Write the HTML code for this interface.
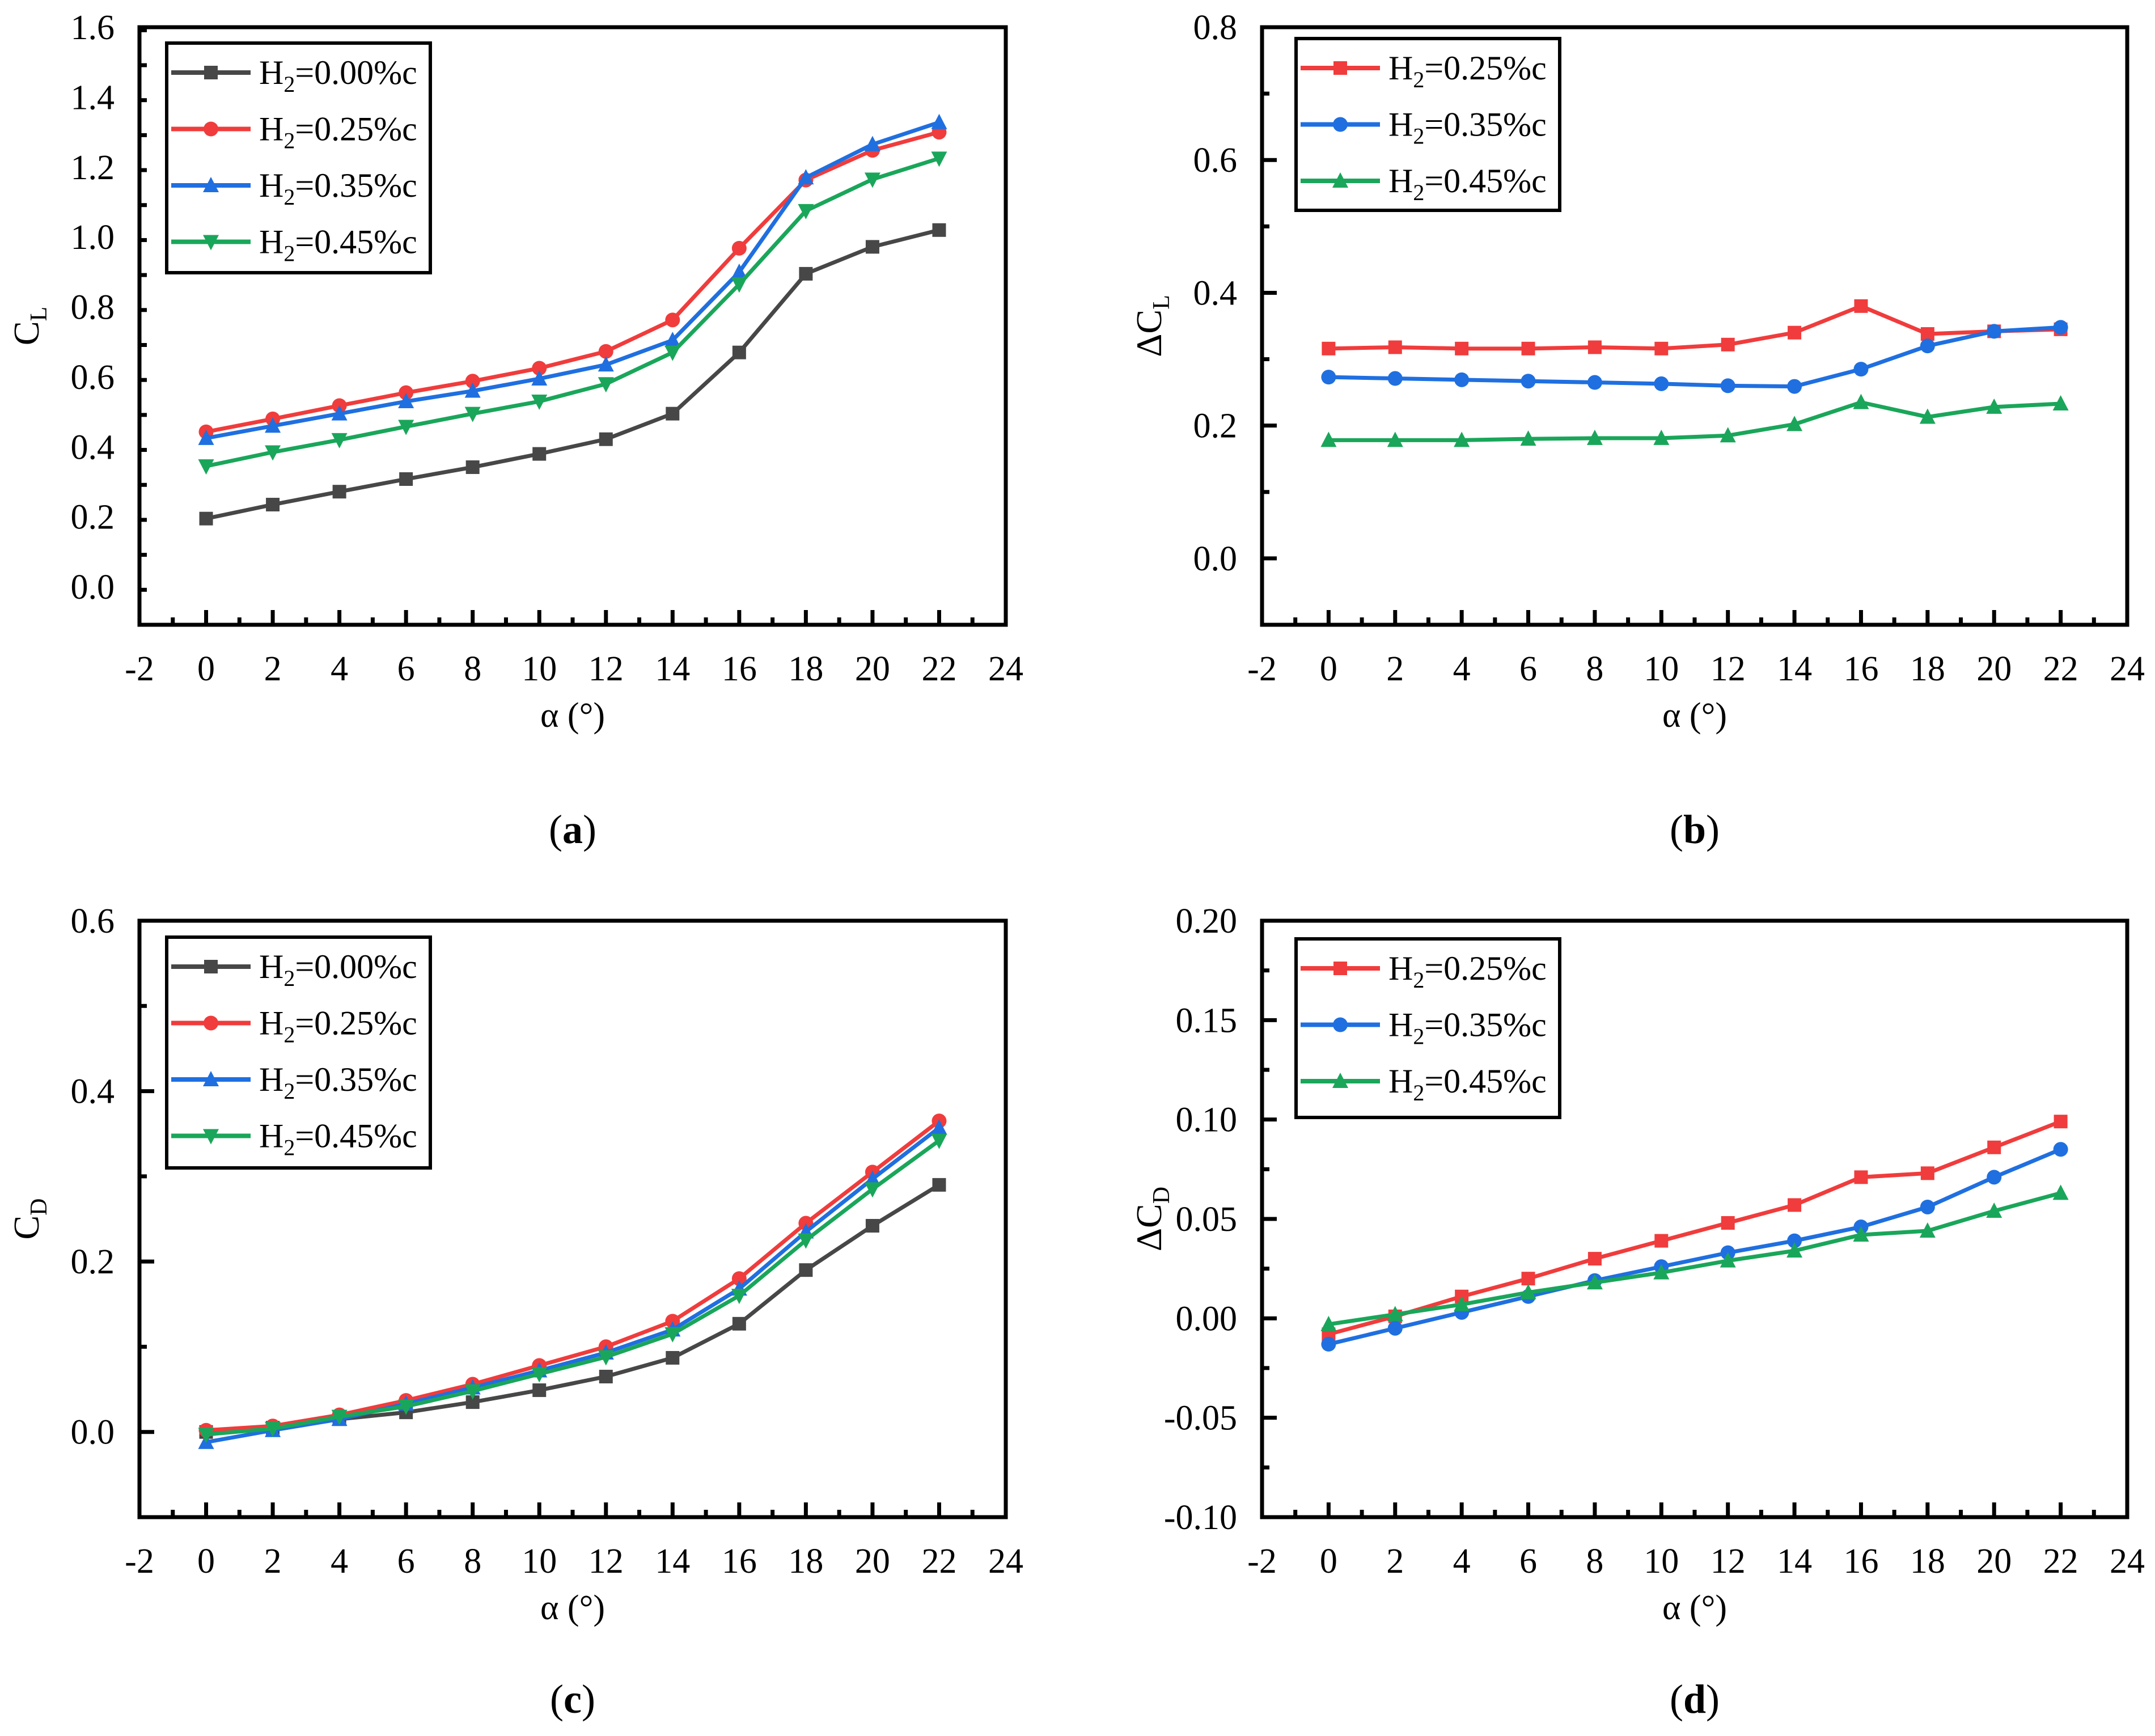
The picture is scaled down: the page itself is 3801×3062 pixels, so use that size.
<!DOCTYPE html>
<html><head><meta charset="utf-8"><style>
html,body{margin:0;padding:0;background:#fff;}
svg{display:block;}
svg text{font-family:"Liberation Serif","DejaVu Serif",serif;}
</style></head><body>
<svg id="fig" width="3801" height="3062" viewBox="0 0 3801 3062" xmlns="http://www.w3.org/2000/svg" font-family="Liberation Serif, serif"></svg>
<script>
const alphas=[0,2,4,6,8,10,12,14,16,18,20,22];
const xTicks=[-2,0,2,4,6,8,10,12,14,16,18,20,22,24];
// panel a: C_L
const clH000=[0.195,0.235,0.272,0.308,0.342,0.38,0.422,0.495,0.67,0.895,0.972,1.02];
const clH025=[0.443,0.48,0.518,0.555,0.588,0.625,0.673,0.763,0.968,1.163,1.248,1.3];
const clH035=[0.425,0.46,0.495,0.53,0.56,0.595,0.635,0.705,0.9,1.17,1.265,1.328];
const clH045=[0.345,0.385,0.42,0.458,0.495,0.53,0.58,0.67,0.865,1.075,1.165,1.225];
const clTicks=["0.0","0.2","0.4","0.6","0.8","1.0","1.2","1.4","1.6"];
// panel b: delta C_L
const dclH025=[0.316,0.318,0.316,0.316,0.318,0.316,0.322,0.34,0.38,0.338,0.342,0.345];
const dclH035=[0.273,0.271,0.269,0.267,0.265,0.263,0.26,0.259,0.285,0.32,0.342,0.348];
const dclH045=[0.178,0.178,0.178,0.18,0.181,0.181,0.185,0.202,0.235,0.213,0.228,0.233];
const dclTicks=["0.0","0.2","0.4","0.6","0.8"];
// panel c: C_D
const cdH000=[0.0,0.005,0.015,0.023,0.035,0.049,0.065,0.087,0.127,0.19,0.242,0.29];
const cdH025=[0.002,0.007,0.02,0.037,0.056,0.078,0.1,0.13,0.18,0.245,0.305,0.365];
const cdH035=[-0.012,0.002,0.015,0.033,0.052,0.072,0.093,0.12,0.168,0.235,0.297,0.357];
const cdH045=[-0.003,0.004,0.018,0.03,0.048,0.068,0.088,0.115,0.16,0.225,0.285,0.342];
const cdTicks=["0.0","0.2","0.4","0.6"];
// panel d: delta C_D
const dcdH025=[-0.008,0.001,0.011,0.02,0.03,0.039,0.048,0.057,0.071,0.073,0.086,0.099];
const dcdH035=[-0.013,-0.005,0.003,0.011,0.019,0.026,0.033,0.039,0.046,0.056,0.071,0.085];
const dcdH045=[-0.003,0.002,0.007,0.013,0.018,0.023,0.029,0.034,0.042,0.044,0.054,0.063];
const dcdTicks=["-0.10","-0.05","0.00","0.05","0.10","0.15","0.20"];

const NS="http://www.w3.org/2000/svg";
const FF='"Liberation Serif", serif';
const svg=document.getElementById('fig');
function mk(tag,attrs,parent){const e=document.createElementNS(NS,tag);for(const k in attrs)e.setAttribute(k,attrs[k]);if(tag==='text')e.setAttribute('font-family',FF);(parent||svg).appendChild(e);return e;}
const COL={g:"#474747",r:"#f03c3c",b:"#1f6fe0",gr:"#1aa65a"};

function marker(g,type,x,y,c){
  let m;const s=12;
  if(type==='sq'){m=mk('rect',{x:x-s,y:y-s,width:2*s,height:2*s,fill:c},g);}
  else if(type==='ci'){m=mk('circle',{cx:x,cy:y,r:s+1,fill:c},g);}
  else if(type==='up'){m=mk('polygon',{points:`${x},${y-s-3} ${x-s-2},${y+s} ${x+s+2},${y+s}`,fill:c},g);}
  else {m=mk('polygon',{points:`${x},${y+s+3} ${x-s-2},${y-s} ${x+s+2},${y-s}`,fill:c},g);}
  
  
}

function panel(P){
  const g=mk('g',{});
  
  
  const X=v=>P.x0+(v+2)/26*(P.x1-P.x0);
  const Y=v=>P.yb+(v-P.ymin)/(P.ymax-P.ymin)*(P.yt-P.yb);
  const fr=mk('rect',{x:P.x0,y:P.yt,width:P.x1-P.x0,height:P.yb-P.yt,fill:'none',stroke:'#000','stroke-width':7},g);
  
  
  for(let v=-2;v<=24;v++){
    const maj=(v%2===0);
    mk('line',{x1:X(v),x2:X(v),y1:P.yb,y2:P.yb-(maj?26:13),stroke:'#000','stroke-width':7},g);
  }
  xTicks.forEach(v=>{
    const t=mk('text',{x:X(v),y:P.yb+98,'font-size':62,'text-anchor':'middle'},g);
    t.textContent=String(v);
    
    
  });
  const step=P.ystep;
  for(let v=P.ymin;v<=P.ymax+1e-9;v+=step/2){
    const isMaj=Math.abs(Math.round(v/step)*step-v)<1e-9;
    mk('line',{x1:P.x0,x2:P.x0+(isMaj?26:13),y1:Y(v),y2:Y(v),stroke:'#000','stroke-width':7},g);
  }
  P.ticks.forEach(s=>{
    const v=parseFloat(s);
    const t=mk('text',{x:P.x0-44,y:Y(v)+21,'font-size':62,'text-anchor':'end'},g);
    t.textContent=s;
    
    
  });
  const xt=mk('text',{x:(P.x0+P.x1)/2,y:P.yb+180,'font-size':62,'text-anchor':'middle'},g);
  xt.textContent='α (°)';
  
  
  const cy=(P.yt+P.yb)/2;
  const yt=mk('text',{x:0,y:0,'font-size':64,'text-anchor':'middle',transform:`translate(${P.x0-178},${cy}) rotate(-90)`},g);
  yt.innerHTML=P.ytitle+'<tspan font-size="42" dy="14">'+P.ysub+'</tspan>';
  
  
  P.series.forEach(S=>{
    const sg=mk('g',{},g);
    
    
    const pts=alphas.map((a,i)=>X(a)+','+Y(S.data[i])).join(' ');
    mk('polyline',{points:pts,fill:'none',stroke:S.c,'stroke-width':7,'stroke-linejoin':'round'},sg);
    alphas.forEach((a,i)=>marker(sg,S.m,X(a),Y(S.data[i]),S.c));
  });
  const L=P.leg;
  const lg=mk('g',{},g);
  
  
  mk('rect',{x:L.x,y:L.y,width:465,height:L.h,fill:'#fff',stroke:'#000','stroke-width':6},lg);
  P.series.forEach((S,i)=>{
    const ey=L.y+52+i*99.5;
    const eg=mk('g',{},lg);
    
    
    mk('line',{x1:L.x+8,x2:L.x+148,y1:ey,y2:ey,stroke:S.c,'stroke-width':8},eg);
    marker(eg,S.m,L.x+78,ey,S.c);
    const t=mk('text',{x:L.x+163,y:ey+20,'font-size':60},eg);
    t.innerHTML='H<tspan font-size="40" dy="14">2</tspan><tspan dy="-14">='+S.label+'</tspan>';
  });
  const pl=mk('text',{x:(P.x0+P.x1)/2,y:P.yb+P.lblOff,'font-size':72,'text-anchor':'middle'},g);
  pl.innerHTML='(<tspan font-weight="bold">'+P.letter+'</tspan>)';
  
  
}

const sA=[{label:'0.00%c',data:clH000,c:COL.g,m:'sq'},{label:'0.25%c',data:clH025,c:COL.r,m:'ci'},{label:'0.35%c',data:clH035,c:COL.b,m:'up'},{label:'0.45%c',data:clH045,c:COL.gr,m:'dn'}];
const sB=[{label:'0.25%c',data:dclH025,c:COL.r,m:'sq'},{label:'0.35%c',data:dclH035,c:COL.b,m:'ci'},{label:'0.45%c',data:dclH045,c:COL.gr,m:'up'}];
const sC=[{label:'0.00%c',data:cdH000,c:COL.g,m:'sq'},{label:'0.25%c',data:cdH025,c:COL.r,m:'ci'},{label:'0.35%c',data:cdH035,c:COL.b,m:'up'},{label:'0.45%c',data:cdH045,c:COL.gr,m:'dn'}];
const sD=[{label:'0.25%c',data:dcdH025,c:COL.r,m:'sq'},{label:'0.35%c',data:dcdH035,c:COL.b,m:'ci'},{label:'0.45%c',data:dcdH045,c:COL.gr,m:'up'}];

panel({name:'panel-a-lift',letter:'a',x0:246,x1:1774,yt:48,yb:1102,ymin:-0.1086,ymax:1.6,ystep:0.2,ticks:clTicks,ytitle:'C',ysub:'L',series:sA,leg:{x:294,y:76,h:405},lblOff:385});
panel({name:'panel-b-delta-lift',letter:'b',x0:2226,x1:3752,yt:48,yb:1102,ymin:-0.1,ymax:0.8,ystep:0.2,ticks:dclTicks,ytitle:'ΔC',ysub:'L',series:sB,leg:{x:2286,y:68,h:303},lblOff:385});
panel({name:'panel-c-drag',letter:'c',x0:246,x1:1774,yt:1624,yb:2676,ymin:-0.1,ymax:0.6,ystep:0.2,ticks:cdTicks,ytitle:'C',ysub:'D',series:sC,leg:{x:294,y:1653,h:407},lblOff:345});
panel({name:'panel-d-delta-drag',letter:'d',x0:2226,x1:3752,yt:1624,yb:2676,ymin:-0.1,ymax:0.2,ystep:0.05,ticks:dcdTicks,ytitle:'ΔC',ysub:'D',series:sD,leg:{x:2286,y:1656,h:315},lblOff:345});
</script>
</body></html>
